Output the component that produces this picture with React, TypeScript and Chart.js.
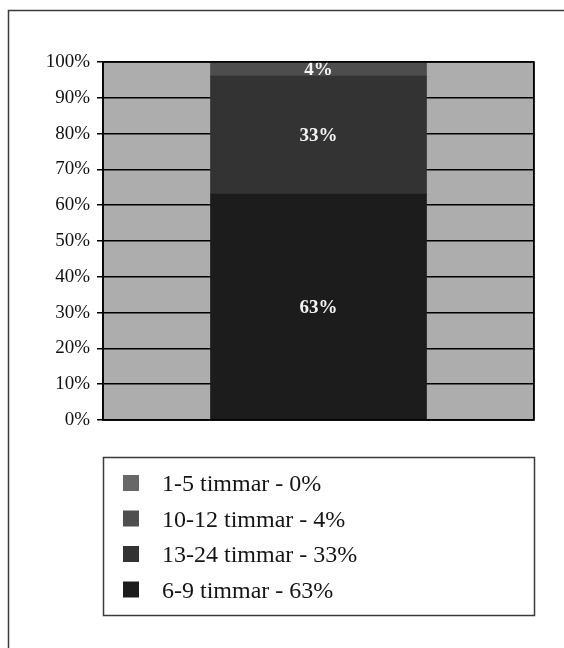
import React, { useEffect, useRef } from "react";
import { Chart, registerables } from "chart.js";

Chart.register(...registerables);

// Stack order, bottom to top
const seriesLabels = ["6-9 timmar", "13-24 timmar", "10-12 timmar", "1-5 timmar"];
const seriesValues = [63, 33, 4, 0];
const seriesColors = ["#1c1c1c", "#333333", "#4d4d4d", "#6a6a6a"];
const legendColors = ["#1c1c1c", "#333333", "#4f4f4f", "#686868"];
const categories = [""];
const yTicks = [0, 10, 20, 30, 40, 50, 60, 70, 80, 90, 100];

const FONT = "'Liberation Serif', 'Times New Roman', serif";

const pagePlugin = {
  id: "page",
  beforeDraw(chart: any) {
    const { ctx, chartArea } = chart;
    ctx.save();
    ctx.fillStyle = "#ffffff";
    ctx.fillRect(0, 0, chart.width, chart.height);
    ctx.fillStyle = "#adadad";
    ctx.fillRect(chartArea.left, chartArea.top, chartArea.right - chartArea.left, chartArea.bottom - chartArea.top);
    ctx.restore();
  },
  afterDraw(chart: any) {
    const { ctx, chartArea } = chart;
    ctx.save();
    // outer frame
    ctx.strokeStyle = "#3a3a3a";
    ctx.lineWidth = 1.5;
    ctx.strokeRect(8.5, 10.5, chart.width + 20, chart.height + 20);
    // plot border
    ctx.strokeStyle = "#000000";
    ctx.lineWidth = 1.5;
    ctx.strokeRect(chartArea.left, chartArea.top, chartArea.right - chartArea.left, chartArea.bottom - chartArea.top);

    // legend box
    const lx = chartArea.left;
    const lw = chartArea.right - chartArea.left;
    const ly = 457;
    const lh = 158;
    ctx.strokeStyle = "#3a3a3a";
    ctx.lineWidth = 1.5;
    ctx.strokeRect(lx + 0.5, ly + 0.5, lw, lh);

    const ds = chart.data.datasets;
    const order = ds.map((_: any, i: number) => i).reverse();
    ctx.font = `24px ${FONT}`;
    ctx.textBaseline = "middle";
    ctx.textAlign = "left";
    order.forEach((di: number, row: number) => {
      const cy = 483 + row * 35.5;
      ctx.fillStyle = legendColors[di];
      ctx.fillRect(lx + 20, cy - 8, 16, 16);
      ctx.fillStyle = "#151515";
      ctx.fillText(`${ds[di].label} - ${ds[di].data[0]}%`, lx + 59, cy + 2);
    });
    ctx.restore();
  },
  afterDatasetsDraw(chart: any) {
    const { ctx } = chart;
    ctx.save();
    ctx.font = `bold 19px ${FONT}`;
    ctx.fillStyle = "#f2f2f2";
    ctx.textAlign = "center";
    ctx.textBaseline = "middle";
    chart.data.datasets.forEach((d: any, i: number) => {
      const meta = chart.getDatasetMeta(i);
      meta.data.forEach((el: any, j: number) => {
        const v = d.data[j];
        if (!v) return;
        const y = (el.y + el.base) / 2;
        ctx.fillText(`${v}%`, el.x, y + 1);
      });
    });
    ctx.restore();
  },
};

export default function App() {
  const ref = useRef<HTMLCanvasElement>(null);

  useEffect(() => {
    if (!ref.current) return;
    const chart = new Chart(ref.current, {
      type: "bar",
      data: {
        labels: categories,
        datasets: seriesLabels.map((label, i) => ({
          label,
          data: [seriesValues[i]],
          backgroundColor: seriesColors[i],
          borderWidth: 0,
          inflateAmount: 0.6,
          categoryPercentage: 1,
          barPercentage: 0.5,
        })),
      },
      options: {
        responsive: false,
        animation: false,
        layout: { padding: { left: 0, right: 30, top: 62, bottom: 228 } },
        plugins: {
          legend: { display: false },
          tooltip: { enabled: false },
        },
        scales: {
          x: {
            stacked: true,
            ticks: { display: false },
            grid: { display: true, color: "#000000", lineWidth: 1.5, drawTicks: false, offset: true },
            border: { display: true, color: "#000000", width: 1.5 },
            afterFit: (s: any) => {
              s.height = 0;
            },
          },
          y: {
            stacked: true,
            min: 0,
            max: 100,
            afterBuildTicks: (s: any) => {
              s.ticks = yTicks.map((v) => ({ value: v }));
            },
            ticks: {
              padding: 7,
              color: "#111111",
              font: { family: FONT, size: 19 },
              callback: (v: any) => `${v}%`,
            },
            grid: { color: "#000000", lineWidth: 1.5, tickLength: 6, tickColor: "#000000" },
            border: { display: true, color: "#000000", width: 1.5 },
            afterFit: (s: any) => {
              s.width = 103;
            },
          },
        },
      },
      plugins: [pagePlugin],
    });
    return () => chart.destroy();
  }, []);

  return (
    <div style={{ position: "fixed", left: 0, top: 0, width: 564, height: 648 }}>
      <canvas ref={ref} width={564} height={648} style={{ display: "block" }} />
    </div>
  );
}
